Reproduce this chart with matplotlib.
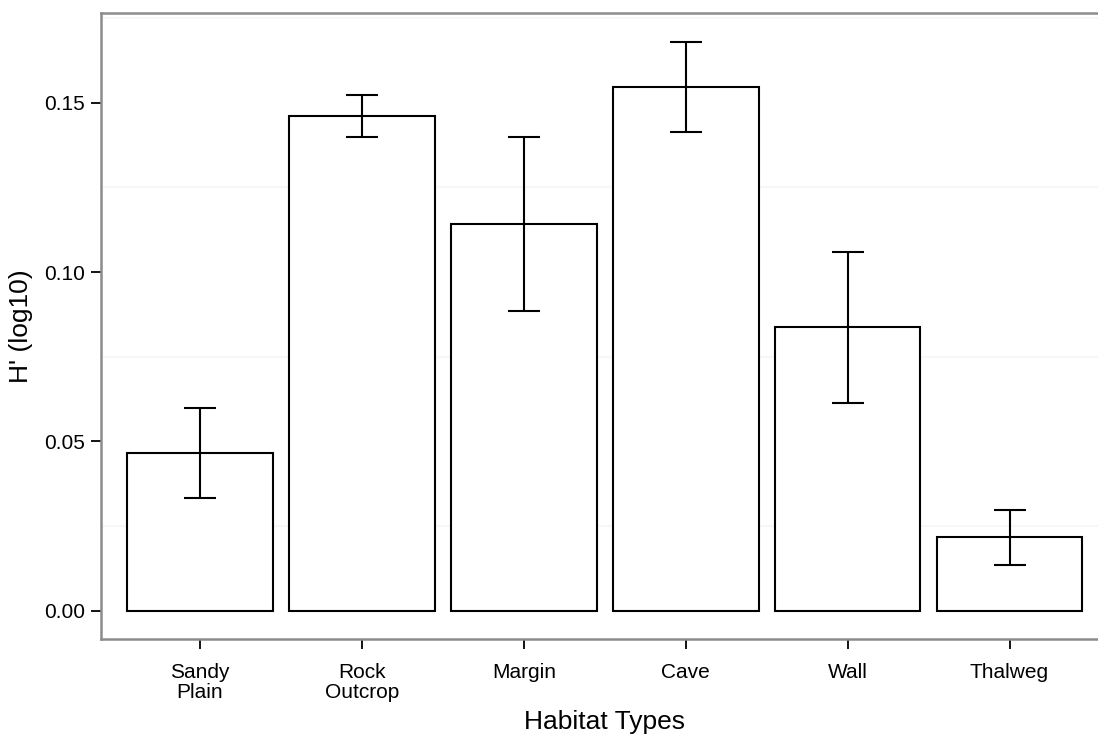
import numpy as np
import matplotlib
matplotlib.use('Agg')
import matplotlib.pyplot as plt

#dane
habitats = ['Sandy\nPlain', 'Rock\nOutcrop', 'Margin', 'Cave', 'Wall', 'Thalweg']
h_mean = [0.0466, 0.1462, 0.1143, 0.1545, 0.0837, 0.0217]
h_err = [0.0133, 0.0062, 0.0257, 0.0133, 0.0223, 0.0082]
yticks = [0.00, 0.05, 0.10, 0.15]
ylabels = ['0.00', '0.05', '0.10', '0.15']

plt.rcParams['font.family'] = ['Liberation Sans', 'DejaVu Sans']

fig = plt.figure(figsize=(10.98, 7.38), dpi=100)
ax = fig.add_axes([0.0924, 0.1341, 0.9167, 0.848])

x = np.arange(len(habitats))
ax.bar(x, h_mean, width=0.9, color='white', edgecolor='black', linewidth=1.5, zorder=2)
ax.errorbar(x, h_mean, yerr=h_err, fmt='none', ecolor='black', elinewidth=1.5,
            capsize=11.5, capthick=1.5, zorder=3)

#osie
ax.set_xlim(-0.608, 5.608)
ax.set_ylim(-0.0083, 0.1764)
ax.set_xticks(x)
ax.set_xticklabels(habitats, fontsize=15, linespacing=1.1)
ax.set_yticks(yticks)
ax.set_yticklabels(ylabels, fontsize=15)
ax.set_yticks([0.025, 0.075, 0.125, 0.175], minor=True)
ax.yaxis.grid(True, which='minor', color='#f7f7f7', linewidth=1.5, zorder=0)
ax.tick_params(axis='both', which='major', direction='out', length=7, width=1.3,
               color='black')
ax.tick_params(axis='x', which='major', pad=10)
ax.tick_params(axis='y', which='major', pad=5)
ax.tick_params(axis='y', which='minor', length=0)

for side in ['left', 'top', 'bottom', 'right']:
    ax.spines[side].set_color('#8c8c8c')
    ax.spines[side].set_linewidth(1.8)

ax.set_xlabel('Habitat Types', fontsize=19, labelpad=6)
ax.set_ylabel("H' (log10)", fontsize=19, labelpad=8)

fig.savefig('out.png', dpi=100)
